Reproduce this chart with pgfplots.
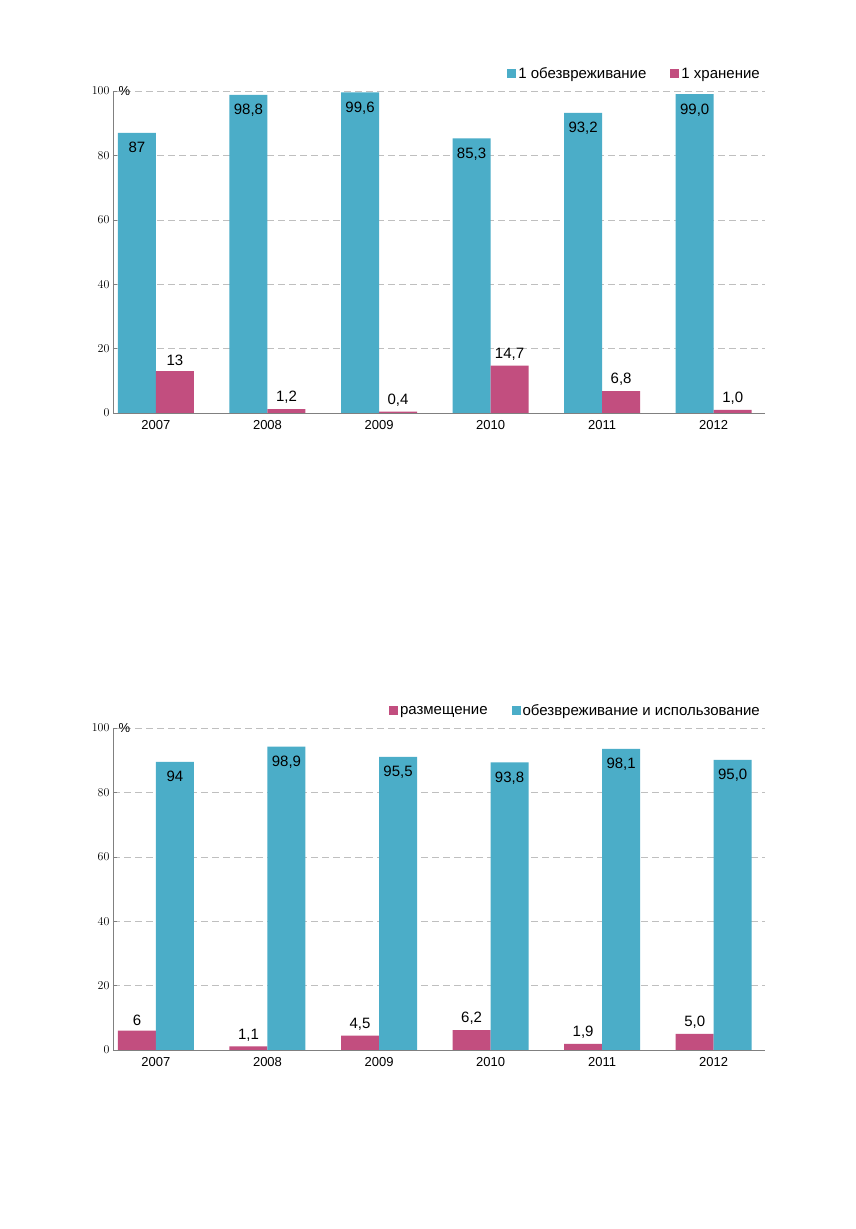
\documentclass[border=0pt]{standalone}
\usepackage{pgfplots}
\pgfplotsset{compat=1.18}
\usepackage{fontspec}
\setmainfont{Liberation Sans}
\definecolor{cb}{HTML}{4BADC8}
\definecolor{cm}{HTML}{C24E7F}
\pgfplotsset{
 myax/.style={scale only axis, width=652pt, height=322pt, clip=false,
  xmin=-0.385, xmax=5.46, ymin=0, ymax=100,
  xtick={0,...,5}, xticklabels={2007,2008,2009,2010,2011,2012},
  ytick={0,20,...,100}, axis x line*=bottom, axis y line*=left,
  x axis line style={-, gray}, y axis line style={-, gray},
  tick style={gray}, xtick style={draw=none},
  extra x ticks={-0.5,0.5,1.5,2.5,3.5,4.5,5.5}, extra x tick labels={},
  extra x tick style={major tick length=6pt, tick style={gray}, grid=none},
  ymajorgrids, grid style={dash pattern=on 7pt off 4pt, gray!50},
  tick label style={font=\fontsize{13}{13}\selectfont},
  ybar, bar width=38pt, point meta=explicit symbolic,
  nodes near coords, nodes near coords style={font=\fontsize{15}{15}\selectfont},
  legend style={draw=none, font=\fontsize{15}{15}\selectfont, legend columns=-1,
   at={(1,1.02)}, anchor=south east, /tikz/every even column/.append style={column sep=22pt}},
  legend image code/.code={\fill[#1] (0pt,-4pt) rectangle (9pt,5pt);},
 }}
\begin{document}
\begin{tikzpicture}
\path[fill=white] (0pt,0pt) rectangle (856pt,1229pt);
\begin{axis}[myax, at={(113pt,816pt)}, anchor=south west]
\addplot[fill=cb, draw=none, bar shift=-19pt, nodes near coords style={anchor=north, yshift=-6pt}]
 table[meta=l]{x y l
0 87 87
1 98.8 98,8
2 99.6 99,6
3 85.3 85,3
4 93.2 93,2
5 99.0 99,0
};
\addplot[fill=cm, draw=none, bar shift=19pt, nodes near coords style={anchor=south, yshift=2pt}]
 table[meta=l]{x y l
0 13 13
1 1.2 1,2
2 0.4 0,4
3 14.7 14,7
4 6.8 6,8
5 1.0 1,0
};
\legend{1 обезвреживание, 1 хранение}
\node[anchor=west, font=\fontsize{13}{13}\selectfont] at (axis cs:-0.385,100) {\,\%};
\end{axis}
\begin{axis}[myax, at={(113pt,179pt)}, anchor=south west]
\addplot[fill=cm, draw=none, bar shift=-19pt, nodes near coords style={anchor=south, yshift=2pt}]
 table[meta=l]{x y l
0 6 6
1 1.1 1,1
2 4.5 4,5
3 6.2 6,2
4 1.9 1,9
5 5.0 5,0
};
\addplot[fill=cb, draw=none, bar shift=19pt, nodes near coords style={anchor=north, yshift=-6pt}]
 table[meta=l]{x y l
0 89.5 94
1 94.2 98,9
2 91.0 95,5
3 89.3 93,8
4 93.5 98,1
5 90.1 95,0
};
\legend{размещение, обезвреживание и использование}
\node[anchor=west, font=\fontsize{13}{13}\selectfont] at (axis cs:-0.385,100) {\,\%};
\end{axis}
\end{tikzpicture}
\end{document}
